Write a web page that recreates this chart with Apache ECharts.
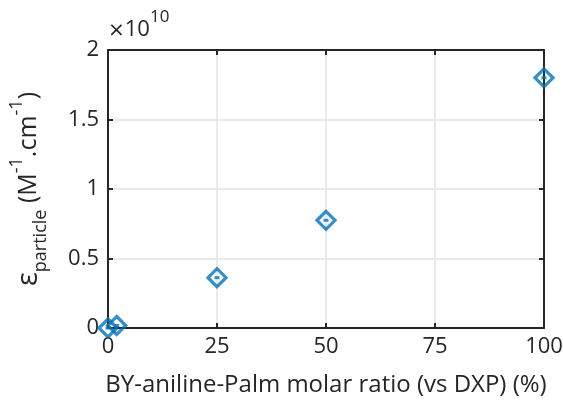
<!DOCTYPE html>
<html>
<head>
<meta charset="utf-8">
<script src="https://cdn.jsdelivr.net/npm/echarts@6/dist/echarts.min.js"></script>
<style>
  html, body { margin: 0; padding: 0; background: #fff; }
  #chart { width: 563px; height: 401px; }
</style>
</head>
<body>
<div id="chart"></div>
<script>
// Molar ratio (%) and particle extinction coefficient (M^-1 cm^-1)
const ratios = [0, 2, 25, 50, 100];
const epsilon = [0.0e10, 0.018e10, 0.362e10, 0.775e10, 1.80e10];
const xTicks = [0, 25, 50, 75, 100];
const yTicks = [0, 0.5e10, 1e10, 1.5e10, 2e10];

const FONT = 'Open Sans';
const INK = '#262626';
const BLUE = '#0072BD';
const GRID = '#e3e3e3';

const points = ratios.map((r, i) => [r, epsilon[i]]);

const chart = echarts.init(document.getElementById('chart'), null, { renderer: 'canvas' });

const line = { show: true, onZero: false, lineStyle: { color: INK, width: 2 } };
const tick = { show: true, inside: true, length: 5, lineStyle: { color: INK, width: 2 } };

chart.setOption({
  animation: false,
  grid: { left: 108, right: 19, top: 50, bottom: 73, containLabel: false, outerBoundsMode: 'none' },
  xAxis: [
    {
      type: 'value', min: xTicks[0], max: xTicks[xTicks.length - 1], interval: 25, position: 'bottom',
      axisLine: line, axisTick: tick,
      axisLabel: { color: INK, fontFamily: FONT, fontSize: 22, margin: 8 },
      splitLine: { show: true, lineStyle: { color: GRID, width: 1.5 } },
      name: 'BY-aniline-Palm molar ratio (vs DXP) (%)',
      nameLocation: 'middle', nameGap: 45,
      nameTextStyle: { color: INK, fontFamily: FONT, fontSize: 24 }
    },
    {
      type: 'value', min: xTicks[0], max: xTicks[xTicks.length - 1], interval: 25, position: 'top',
      axisLine: line, axisTick: tick, axisLabel: { show: false }, splitLine: { show: false }
    }
  ],
  yAxis: [
    {
      type: 'value', min: yTicks[0], max: yTicks[yTicks.length - 1], interval: 0.5e10, position: 'left',
      axisLine: line, axisTick: tick,
      axisLabel: {
        color: INK, fontFamily: FONT, fontSize: 22, margin: 9,
        formatter: v => String(+(v / 1e10).toFixed(2))
      },
      splitLine: { show: true, lineStyle: { color: GRID, width: 1.5 } },
      name: '{e|ε}{sub|particle}{n| (M}{sup|-1}{n|.cm}{sup|-1}{n|)}',
      nameLocation: 'middle', nameGap: 58, nameRotate: 90,
      nameTextStyle: {
        color: INK, fontFamily: FONT, fontSize: 25,
        rich: {
          e: { fontFamily: FONT, fontSize: 29, color: INK, lineHeight: 42, verticalAlign: 'middle' },
          n: { fontFamily: FONT, fontSize: 25, color: INK, lineHeight: 42, verticalAlign: 'middle' },
          sub: { fontFamily: FONT, fontSize: 18, color: INK, lineHeight: 16, verticalAlign: 'bottom' },
          sup: { fontFamily: FONT, fontSize: 18, color: INK, lineHeight: 16, verticalAlign: 'top' }
        }
      }
    },
    {
      type: 'value', min: yTicks[0], max: yTicks[yTicks.length - 1], interval: 0.5e10, position: 'right',
      axisLine: line, axisTick: tick, axisLabel: { show: false }, splitLine: { show: false }
    }
  ],
  graphic: [
    {
      type: 'text', left: 108, top: 9,
      style: {
        text: '{x|×}{n|10}{s|10}',
        rich: {
          x: { fontFamily: 'DejaVu Sans', fontSize: 20, fill: INK, lineHeight: 32, verticalAlign: 'bottom' },
          n: { fontFamily: FONT, fontSize: 22, fill: INK, lineHeight: 32, verticalAlign: 'bottom' },
          s: { fontFamily: FONT, fontSize: 17, fill: INK, lineHeight: 17, verticalAlign: 'top' }
        }
      }
    }
  ],
  series: [
    {
      type: 'scatter', data: points, symbol: 'diamond', symbolSize: 18,
      clip: false, z: 5,
      itemStyle: { color: 'rgba(0,0,0,0)', borderColor: BLUE, borderWidth: 3.2 }
    },
    {
      // tiny error-bar caps drawn inside each marker
      type: 'scatter', data: points, symbol: 'rect', symbolSize: [5, 3],
      clip: false, z: 6, silent: true,
      itemStyle: { color: BLUE }
    }
  ]
});
</script>
</body>
</html>
